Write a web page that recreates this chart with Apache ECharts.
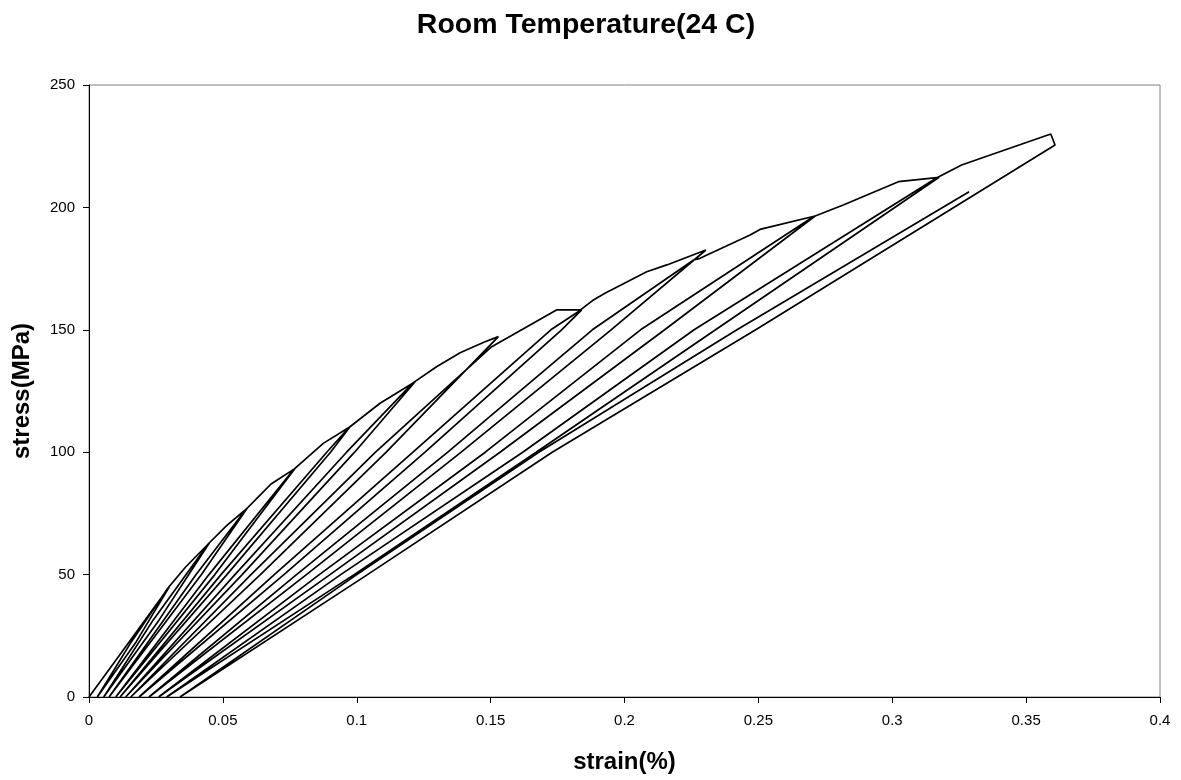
<!DOCTYPE html>
<html>
<head>
<meta charset="utf-8">
<title>Room Temperature(24 C)</title>
<script src="https://cdn.jsdelivr.net/npm/echarts@6/dist/echarts.min.js"></script>
<style>
  html, body { margin: 0; padding: 0; background: #fff; }
  #chart { width: 1181px; height: 780px; }
</style>
</head>
<body>
<div id="chart"></div>
<script>
// Cyclic tensile test record at room temperature: loading, unloading to zero
// stress and reloading, in the order the points were recorded.
const strain = [
  0, 0.012, 0.024, 0.030,
  0.0176, 0.0031,
  0.0158, 0.0295, 0.036, 0.045,
  0.0262, 0.0055,
  0.0240, 0.0445, 0.0514, 0.059,
  0.0420, 0.0075,
  0.0400, 0.0585, 0.0626, 0.068, 0.077,
  0.0470, 0.010,
  0.0448, 0.0765, 0.0875, 0.0975,
  0.0902, 0.0515, 0.0116,
  0.0493, 0.0888, 0.0970, 0.1087, 0.1218,
  0.0992, 0.0572, 0.0137,
  0.0545, 0.0962, 0.1210, 0.1298, 0.1386, 0.1479, 0.1529,
  0.1110, 0.0640, 0.0156,
  0.0605, 0.1070, 0.1504, 0.1746, 0.184,
  0.1765, 0.1255, 0.0728, 0.0187,
  0.0692, 0.1210, 0.1725, 0.1830, 0.1884, 0.1927, 0.2083, 0.2158, 0.2304,
  0.1950, 0.1390, 0.0812, 0.0224,
  0.0775, 0.1340, 0.1880, 0.2258, 0.2282, 0.2469, 0.2506, 0.2712,
  0.2150, 0.1535, 0.0900, 0.026,
  0.0860, 0.1480, 0.2060, 0.2705, 0.2817, 0.3023, 0.3175,
  0.2340, 0.1670, 0.0990, 0.029,
  0.0940, 0.1620, 0.2260, 0.3165, 0.3259, 0.3592, 0.3608,
  0.249, 0.173, 0.104, 0.034,
  0.100, 0.168, 0.242, 0.3287
];
const stress = [
  0, 18, 36, 45,
  22.5, 0,
  22.5, 44.5, 53, 63,
  31.5, 0,
  31.5, 62.5, 70, 77,
  50, 0,
  50, 76.5, 81, 87, 93.4,
  50, 0,
  50, 93, 103.6, 110.4,
  100, 50, 0,
  50, 100, 110, 120, 128.8,
  100, 50, 0,
  50, 100, 128.3, 134.9, 140.6, 145.1, 147.2,
  100, 50, 0,
  50, 100, 143.1, 158.1, 158.1,
  150, 100, 50, 0,
  50, 100, 150, 157.6, 162.2, 164.9, 173.7, 176.5, 182.6,
  150, 100, 50, 0,
  50, 100, 150, 178.5, 179.2, 188.7, 191.0, 196.5,
  150, 100, 50, 0,
  50, 100, 150, 196.2, 201.0, 210.5, 212.3,
  150, 100, 50, 0,
  50, 100, 150, 212.0, 217.3, 230.0, 225.5,
  150, 100, 50, 0,
  50, 100, 150, 206.4
];

const chartTitle = 'Room Temperature(24 C)';
const xName = 'strain(%)';
const yName = 'stress(MPa)';

const points = strain.map((s, i) => [s, stress[i]]);

const font = '"Liberation Sans", Arial, sans-serif';
const chart = echarts.init(document.getElementById('chart'), null, { renderer: 'canvas' });

chart.setOption({
  animation: false,
  backgroundColor: '#ffffff',
  title: {
    text: chartTitle,
    left: 581,
    top: 6,
    textAlign: 'center',
    textStyle: { fontFamily: font, fontWeight: 'bold', fontSize: 28.5, color: '#000' }
  },
  grid: {
    left: 89, right: 21, top: 85, bottom: 83,
    show: true, borderColor: '#808080', borderWidth: 1, backgroundColor: 'transparent'
  },
  xAxis: {
    type: 'value',
    min: 0, max: 0.4, interval: 0.05,
    name: xName,
    nameLocation: 'middle',
    nameGap: 53,
    nameTextStyle: { fontFamily: font, fontWeight: 'bold', fontSize: 24, color: '#000' },
    axisLine: { show: true, onZero: false, lineStyle: { color: '#000', width: 1 } },
    axisTick: { show: true, inside: false, length: 6, lineStyle: { color: '#000' } },
    axisLabel: { fontFamily: font, fontSize: 15, color: '#000', margin: 16 },
    splitLine: { show: false }
  },
  yAxis: {
    type: 'value',
    min: 0, max: 250, interval: 50,
    name: yName,
    nameLocation: 'middle',
    nameGap: 55,
    nameTextStyle: { fontFamily: font, fontWeight: 'bold', fontSize: 24, color: '#000' },
    axisLine: { show: true, onZero: false, lineStyle: { color: '#000', width: 1 } },
    axisTick: { show: true, inside: false, length: 6, lineStyle: { color: '#000' } },
    axisLabel: { fontFamily: font, fontSize: 15, color: '#000', margin: 14 },
    splitLine: { show: false }
  },
  series: [{
    type: 'line',
    data: points,
    showSymbol: false,
    symbol: 'none',
    smooth: false,
    clip: true,
    lineStyle: { color: '#000', width: 1.7 }
  }]
});
</script>
</body>
</html>
